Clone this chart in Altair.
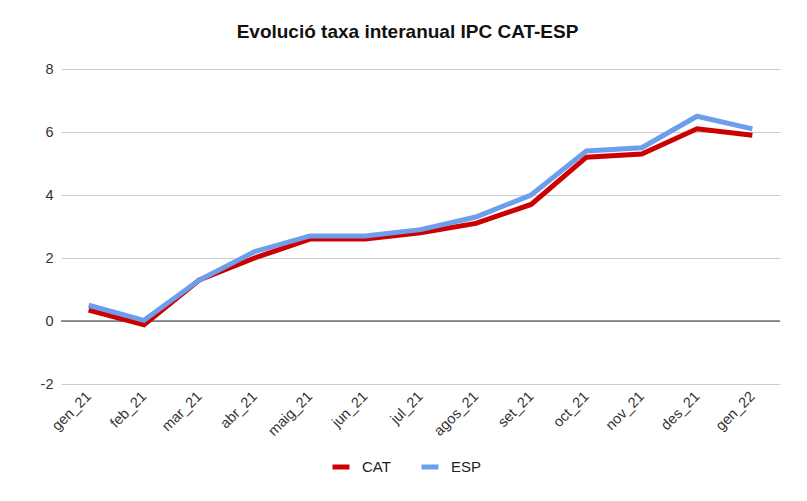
import altair as alt
import pandas as pd

months = ["gen_21", "feb_21", "mar_21", "abr_21", "maig_21", "jun_21", "jul_21",
          "agos_21", "set_21", "oct_21", "nov_21", "des_21", "gen_22"]
cat = [0.35, -0.12, 1.3, 2.0, 2.6, 2.6, 2.8, 3.1, 3.7, 5.2, 5.3, 6.1, 5.9]
esp = [0.5, 0.02, 1.3, 2.2, 2.7, 2.7, 2.9, 3.3, 4.0, 5.4, 5.5, 6.5, 6.1]

rows = []
for m, c, e in zip(months, cat, esp):
    rows.append({"mes": m, "serie": "CAT", "valor": c, "ord": 0})
    rows.append({"mes": m, "serie": "ESP", "valor": e, "ord": 1})
df = pd.DataFrame(rows)

FONT = "Liberation Sans"

x = alt.X("mes:N", sort=months, title=None,
          scale=alt.Scale(type="point", padding=0.5),
          axis=alt.Axis(labelAngle=-45, labelAlign="right", labelBaseline="middle",
                        labelFontSize=14.5, labelColor="#333333", labelFont=FONT,
                        ticks=False, domain=False, grid=False, labelPadding=10))
y = alt.Y("valor:Q", title=None,
          scale=alt.Scale(domain=[-2, 8], nice=False),
          axis=alt.Axis(values=[-2, 0, 2, 4, 6, 8], labelFontSize=14.5, labelColor="#333333",
                        labelFont=FONT, ticks=False, domain=False, gridColor="#cccccc",
                        labelPadding=8, labelExpr="datum.value"))

lines = alt.Chart(df).mark_line(strokeWidth=5, strokeJoin="miter").encode(
    x=x, y=y,
    color=alt.Color("serie:N", title=None,
                    scale=alt.Scale(domain=["CAT", "ESP"], range=["#cc0000", "#6d9eeb"]),
                    legend=alt.Legend(orient="none", legendX=269, legendY=387,
                                      direction="horizontal", symbolType="stroke",
                                      symbolStrokeWidth=5, symbolSize=289, labelFontSize=15,
                                      labelColor="#222222", labelFont=FONT, labelOffset=10,
                                      columnPadding=20)),
    order=alt.Order("ord:Q"),
    detail="serie:N",
)

zero = alt.Chart(pd.DataFrame({"z": [0]})).mark_rule(color="#333333", strokeWidth=1.2).encode(
    y=alt.Y("z:Q", scale=alt.Scale(domain=[-2, 8], nice=False))
)

chart = alt.layer(zero, lines).properties(
    width=719, height=315,
    title=alt.TitleParams("Evolució taxa interanual IPC CAT-ESP", font=FONT, fontSize=19,
                          fontWeight="bold", color="#111111", anchor="middle", offset=19,
                          dx=-13),
    autosize=alt.AutoSizeParams(type="none"),
    padding={"left": 61, "top": 69, "right": 27, "bottom": 117},
).configure_view(stroke=None)

chart.save("out.html", embed_options={"renderer": "svg", "actions": False})
